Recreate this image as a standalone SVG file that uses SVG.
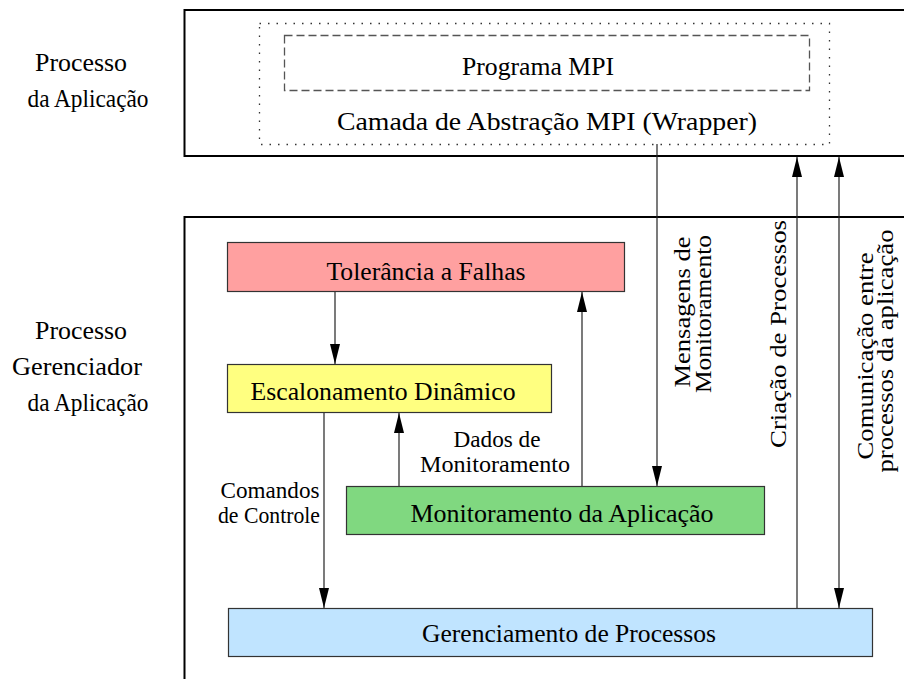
<svg xmlns="http://www.w3.org/2000/svg" width="904" height="679" viewBox="0 0 904 679" font-family="'Liberation Serif', 'Times New Roman', Times, Tinos, 'Nimbus Roman', 'DejaVu Serif', 'Noto Serif', serif">
<style>
text{font-family:"Liberation Serif","Times New Roman",Times,Tinos,"Nimbus Roman","DejaVu Serif","Noto Serif",serif;font-size:26px;fill:#000}
.c{text-anchor:middle}
.s{font-size:24px}
.outer{fill:none;stroke:#000;stroke-width:2}
.box{stroke:#333;stroke-width:1.2}
.ln{fill:none;stroke:#222;stroke-width:1.2}
</style>
<defs>
<marker id="ah" viewBox="0 0 20 10" refX="20" refY="5" markerWidth="20" markerHeight="10" markerUnits="userSpaceOnUse" orient="auto-start-reverse">
<path d="M0,0 L20,5 L0,10 Z" fill="#000"/>
</marker>
</defs>
<rect width="904" height="679" fill="#fff"/>

<g id="labels">
<text class="c" x="81" y="71" textLength="92" lengthAdjust="spacingAndGlyphs">Processo</text>
<text class="c" x="88" y="107" textLength="121" lengthAdjust="spacingAndGlyphs">da Aplicação</text>
<text class="c" x="81" y="339" textLength="92" lengthAdjust="spacingAndGlyphs">Processo</text>
<text class="c" x="77" y="375" textLength="130" lengthAdjust="spacingAndGlyphs">Gerenciador</text>
<text class="c" x="88" y="411" textLength="121" lengthAdjust="spacingAndGlyphs">da Aplicação</text>
</g>

<g id="processo-aplicacao">
<rect class="outer" x="184.5" y="10" width="740" height="146"/>
<rect x="259.5" y="23.5" width="570" height="121" fill="none" stroke="#333" stroke-width="1.3" stroke-dasharray="1.5 7"/>
<rect x="284.5" y="35.5" width="525" height="55" fill="none" stroke="#555" stroke-width="1.3" stroke-dasharray="8 4"/>
<text class="c" x="538" y="75" textLength="152" lengthAdjust="spacingAndGlyphs">Programa MPI</text>
<text class="c" x="547" y="130" textLength="420" lengthAdjust="spacingAndGlyphs">Camada de Abstração MPI (Wrapper)</text>
</g>

<g id="processo-gerenciador">
<rect class="outer" x="184.5" y="217" width="740" height="480"/>
</g>

<g id="tolerancia">
<rect class="box" x="227.5" y="242.5" width="397" height="49" fill="#ffa0a0"/>
<text class="c" x="426" y="280" textLength="199" lengthAdjust="spacingAndGlyphs">Tolerância a Falhas</text>
</g>

<g id="escalonamento">
<rect class="box" x="227.5" y="364.5" width="324" height="48" fill="#ffff80"/>
<text class="c" x="383" y="400" textLength="265" lengthAdjust="spacingAndGlyphs">Escalonamento Dinâmico</text>
</g>

<g id="monitoramento">
<rect class="box" x="346.5" y="486.5" width="418" height="48" fill="#80d880"/>
<text class="c" x="562" y="522" textLength="303" lengthAdjust="spacingAndGlyphs">Monitoramento da Aplicação</text>
</g>

<g id="gerenciamento">
<rect class="box" x="228.5" y="608.5" width="644" height="48" fill="#c0e4ff"/>
<text class="c" x="569" y="642" textLength="294" lengthAdjust="spacingAndGlyphs">Gerenciamento de Processos</text>
</g>

<g id="connectors">
<line class="ln" x1="335" y1="292" x2="335" y2="364" marker-end="url(#ah)"/>
<line class="ln" x1="324" y1="413" x2="324" y2="608" marker-end="url(#ah)"/>
<line class="ln" x1="399" y1="486" x2="399" y2="413" marker-end="url(#ah)"/>
<line class="ln" x1="582" y1="486" x2="582" y2="292" marker-end="url(#ah)"/>
<line class="ln" x1="657" y1="144" x2="657" y2="486" marker-end="url(#ah)"/>
<line class="ln" x1="797" y1="608" x2="797" y2="157" marker-end="url(#ah)"/>
<line class="ln" x1="839" y1="157" x2="839" y2="608" marker-start="url(#ah)" marker-end="url(#ah)"/>
</g>

<g id="connector-labels">
<text class="c s" x="497" y="447" textLength="87" lengthAdjust="spacingAndGlyphs">Dados de</text>
<text class="c s" x="495" y="472" textLength="150" lengthAdjust="spacingAndGlyphs">Monitoramento</text>
<text class="c s" x="270" y="498" textLength="99" lengthAdjust="spacingAndGlyphs">Comandos</text>
<text class="c s" x="269" y="523" textLength="102" lengthAdjust="spacingAndGlyphs">de Controle</text>
<text class="c s" transform="translate(690,312) rotate(-90)" textLength="151" lengthAdjust="spacingAndGlyphs">Mensagens de</text>
<text class="c s" transform="translate(711,314) rotate(-90)" textLength="158" lengthAdjust="spacingAndGlyphs">Monitoramento</text>
<text class="c s" transform="translate(786,334) rotate(-90)" textLength="228" lengthAdjust="spacingAndGlyphs">Criação de Processos</text>
<text class="c s" transform="translate(873,356) rotate(-90)" textLength="207" lengthAdjust="spacingAndGlyphs">Comunicação entre</text>
<text class="c s" transform="translate(893,351) rotate(-90)" textLength="243" lengthAdjust="spacingAndGlyphs">processos da aplicação</text>
</g>
</svg>
